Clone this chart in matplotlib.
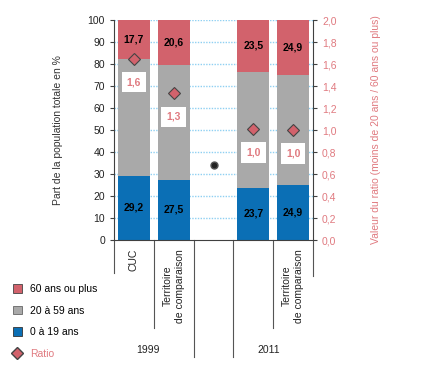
import matplotlib
matplotlib.use("Agg")
import matplotlib.pyplot as plt
from matplotlib.patches import Patch
from matplotlib.lines import Line2D
import matplotlib.transforms as mtransforms

plt.rcParams['font.family'] = ['Liberation Sans', 'DejaVu Sans']

# ---- data ----
categories = ["CUC", "Territoire\nde comparaison", "", "", "Territoire\nde comparaison"]
years = ["1999", "2011"]
slots = [0, 1, 3, 4]                 # slot positions of the four bars
young = [29.2, 27.5, 23.7, 24.9]     # 0 à 19 ans
middle = [53.1, 51.9, 52.8, 50.2]    # 20 à 59 ans
old = [17.7, 20.6, 23.5, 24.9]       # 60 ans ou plus
young_lbl = ["29,2", "27,5", "23,7", "24,9"]
old_lbl = ["17,7", "20,6", "23,5", "24,9"]
ratio = [1.65, 1.335, 1.01, 1.00]
ratio_lbl = ["1,6", "1,3", "1,0", "1,0"]
stray_x = [2]
stray_y = [0.68]

c_red = "#d2626c"
c_gray = "#a9a9a9"
c_blue = "#0b6fb5"
c_pink = "#e07a80"
c_axis = "#404040"

fig = plt.figure(figsize=(4.25, 3.72), dpi=100)
ax = fig.add_axes([114/425, 1-240/372, (313-114)/425, 220/372])

ax.set_xlim(-0.5, 4.5)
ax.set_ylim(0, 100)
ax.set_yticks(range(0, 101, 10))
for v in range(10, 101, 10):
    ax.axhline(v, color="#8fd0f2", lw=1.0, ls=(0, (1, 1)), zorder=0)

w = 0.8
ax.bar(slots, young, w, color=c_blue, zorder=2, lw=0)
ax.bar(slots, middle, w, bottom=young, color=c_gray, zorder=2, lw=0)
bot3 = [a + b for a, b in zip(young, middle)]
ax.bar(slots, old, w, bottom=bot3, color=c_red, zorder=2, lw=0)

for x, y, l in zip(slots, young, young_lbl):
    ax.text(x, y / 2, l, ha='center', va='center', fontsize=7.5, fontweight='bold', color='black', zorder=5)
for x, b, y, l in zip(slots, bot3, old, old_lbl):
    ax.text(x, b + y / 2, l, ha='center', va='center', fontsize=7.5, fontweight='bold', color='black', zorder=5)

ax.tick_params(axis='y', labelsize=7.5, color=c_axis, length=3, labelcolor='#222222')
ax.tick_params(axis='x', bottom=False, labelbottom=False)
for s in ['top', 'right']:
    ax.spines[s].set_visible(False)
ax.spines['left'].set_color(c_axis)
ax.spines['bottom'].set_color(c_axis)
ax.set_ylabel("Part de la population totale en %", fontsize=7.5, color='#333333', labelpad=18)

ax2 = ax.twinx()
ax2.set_ylim(0, 2.0)
ax2.set_yticks([i / 10 for i in range(0, 21, 2)])
ax2.set_yticklabels([f"{i/10:.1f}".replace('.', ',') for i in range(0, 21, 2)])
ax2.tick_params(axis='y', labelsize=7.5, labelcolor=c_pink, color=c_axis, length=3)
for s in ['top', 'left', 'bottom']:
    ax2.spines[s].set_visible(False)
ax2.spines['right'].set_color(c_axis)
ax2.set_ylabel("Valeur du ratio (moins de 20 ans / 60 ans ou plus)", fontsize=7.5, color=c_pink, labelpad=25)

ax2.plot(slots, ratio, ls='none', marker='D', ms=6.5, mfc=c_red, mec='#444444', mew=0.8, zorder=6)
for x, r, l in zip(slots, ratio, ratio_lbl):
    ax2.annotate(l, (x, r), xytext=(0, -17), textcoords='offset points', ha='center', va='center',
                 fontsize=7.5, fontweight='bold', color=c_pink,
                 bbox=dict(boxstyle='square,pad=0.5', fc='white', ec='none'), zorder=6)
ax2.plot(stray_x, stray_y, ls='none', marker='o', ms=5, mfc='#222222', mec='#555555', zorder=6)

# category labels, separators and year labels below the axis
trans = mtransforms.blended_transform_factory(ax.transData, ax.transAxes)
for i, c in enumerate(categories):
    if c:
        ax.text(i, -0.04, c, rotation=90, ha='center', va='top', fontsize=7.5,
                multialignment='center', transform=trans, color='#222222')
sep_x = [-0.5, 0.5, 1.5, 2.5, 3.5, 4.5]
sep_len = [0.15, 0.40, 0.53, 0.53, 0.40, 0.165]
for x, L in zip(sep_x, sep_len):
    ax.plot([x, x], [0, -L], transform=trans, color='#555555', lw=0.8, clip_on=False)
year_x = [0.35, 3.4]
for x, y in zip(year_x, years):
    ax.text(x, -0.50, y, ha='center', va='center', fontsize=7.5, transform=trans, color='#222222')

handles = [Patch(facecolor=c_red, edgecolor='#444444', lw=0.6),
           Patch(facecolor=c_gray, edgecolor='#666666', lw=0.6),
           Patch(facecolor=c_blue, edgecolor='#333333', lw=0.6),
           Line2D([], [], ls='none', marker='D', ms=6.5, mfc=c_red, mec='#444444')]
labels = ["60 ans ou plus", "20 à 59 ans", "0 à 19 ans", "Ratio"]
leg = fig.legend(handles, labels, loc='upper left', bbox_to_anchor=(0.02, 1 - 280/372),
                 frameon=False, fontsize=7.5, handlelength=0.9, handleheight=0.9,
                 labelspacing=1.1, handletextpad=0.8, borderaxespad=0)
leg.get_texts()[3].set_color(c_pink)

fig.savefig("out.png", dpi=100)
